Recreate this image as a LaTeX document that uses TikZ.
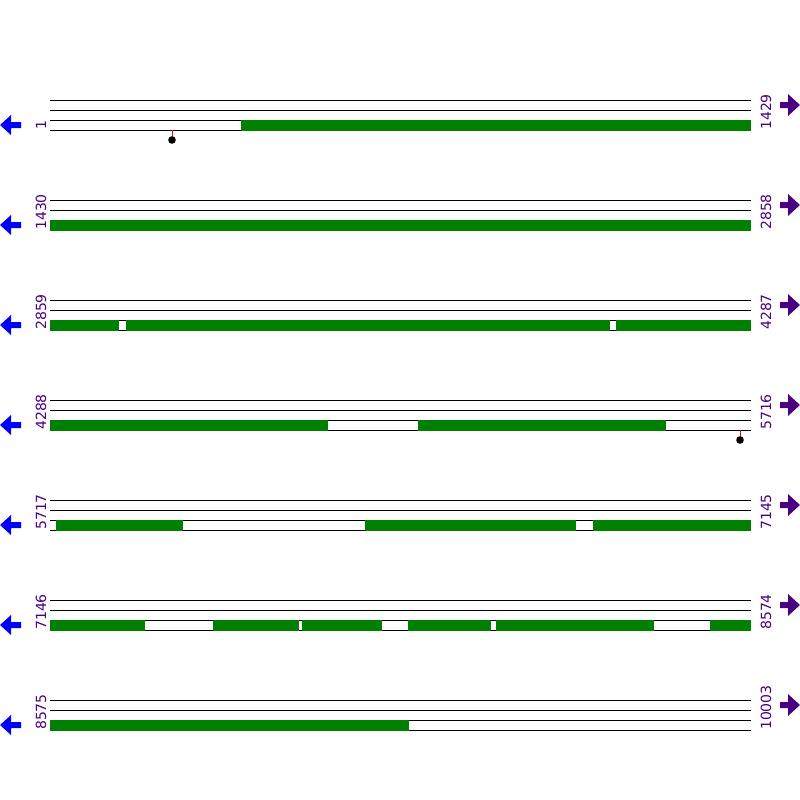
\documentclass[tikz,border=0pt]{standalone}
\usepackage{fontspec}
\setmainfont{DejaVu Sans}
\definecolor{seqgreen}{RGB}{0,128,0}
\definecolor{labpurple}{RGB}{75,0,130}
\definecolor{arrblue}{RGB}{0,0,255}
\tikzset{
  rule/.style={draw=black,line width=1pt},
  seg/.style={fill=seqgreen,draw=none},
  lab/.style={rotate=90,anchor=base west,inner sep=0pt,text=labpurple,font=\fontsize{14}{14}\selectfont},
  larrow/.style={fill=arrblue,draw=none},
  rarrow/.style={fill=labpurple,draw=none},
  pinline/.style={draw=red,line width=1pt},
  pindot/.style={fill=black,draw=none}
}
\begin{document}
\begin{tikzpicture}[x=1pt,y=-1pt]
\useasboundingbox (0,0) rectangle (800,800);
\fill[white] (0,0) rectangle (800,800);
% rows
\foreach \r/\a/\b [count=\i from 0] in {0/1/1429,100/1430/2858,200/2859/4287,300/4288/5716,400/5717/7145,500/7146/8574,600/8575/10003}{
  \begin{scope}[yshift=-\r pt]
    \foreach \yy in {100,110,120,130} \draw[rule] (50,\yy) -- (751,\yy);
    \node[lab] (l\i) at (46,130) {\a};
    \node[lab] (r\i) at (771,130) {\b};
    \fill[larrow] (0,125) -- (11,115) -- (11,122) -- (21,122) -- (21,128) -- (11,128) -- (11,135) -- cycle;
    \fill[rarrow] (800,105) -- (788,94) -- (788,102) -- (780,102) -- (780,108) -- (788,108) -- (788,116) -- cycle;
  \end{scope}
}
% green segments
\foreach \x/\xx/\y in {
  241/751/120,
  50/751/220,
  50/119/320, 126/610/320, 616/751/320,
  50/328/420, 418/666/420,
  56/183/520, 365/576/520, 593/751/520,
  50/145/620, 213/299/620, 302/382/620, 408/491/620, 496/654/620, 710/751/620,
  50/409/720}{
  \fill[seg] (\x,\y-0.5) rectangle (\xx,\y+10.5);
}
% pins
\coordinate (p1a) at (172,130); \coordinate (p1b) at (172,137);
\draw[pinline] (p1a) -- (p1b);
\fill[pindot] (172,140) circle (3.8);
\coordinate (p4a) at (740,430); \coordinate (p4b) at (740,437);
\draw[pinline] (p4a) -- (p4b);
\fill[pindot] (740,440) circle (3.8);
\end{tikzpicture}
\end{document}
